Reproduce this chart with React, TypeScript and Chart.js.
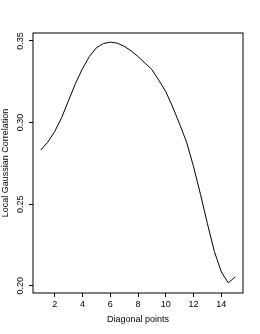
import React, { useEffect, useRef } from "react";
import { Chart, registerables } from "chart.js";

Chart.register(...registerables);

const diagonalPoints = [1, 1.5, 2, 2.5, 3, 3.5, 4, 4.5, 5, 5.5, 6, 6.5, 7, 7.5, 8, 8.5, 9, 9.5, 10, 10.5, 11, 11.5, 12, 12.5, 13, 13.5, 14, 14.5, 15];
const correlation = [0.2832, 0.2880, 0.2945, 0.3030, 0.3135, 0.3240, 0.3330, 0.3405, 0.3458, 0.3484, 0.3493, 0.3487, 0.3468, 0.3440, 0.3405, 0.3365, 0.3325, 0.3260, 0.3190, 0.3095, 0.2990, 0.2880, 0.2730, 0.2560, 0.2380, 0.2210, 0.2085, 0.2018, 0.2055];
const xTicks = [2, 4, 6, 8, 10, 12, 14];
const yTicks = [0.20, 0.25, 0.30, 0.35];
const xTitle = "Diagonal points";
const yTitle = "Local Gaussian Correlation";

const FONT = "'Liberation Sans', Arial, Helvetica, sans-serif";

const boxPlugin = {
  id: "rbox",
  afterDraw(chart: any) {
    const { ctx, chartArea } = chart;
    ctx.save();
    ctx.strokeStyle = "#000";
    ctx.lineWidth = 1;
    ctx.strokeRect(chartArea.left, chartArea.top, chartArea.right - chartArea.left, chartArea.bottom - chartArea.top);
    ctx.restore();
  },
};

export default function App() {
  const ref = useRef<HTMLCanvasElement | null>(null);
  useEffect(() => {
    if (!ref.current) return;
    const chart = new Chart(ref.current, {
      type: "line",
      data: {
        datasets: [
          {
            data: diagonalPoints.map((x, i) => ({ x, y: correlation[i] })),
            borderColor: "#000",
            borderWidth: 1,
            pointRadius: 0,
            tension: 0,
            fill: false,
          },
        ],
      },
      options: {
        responsive: false,
        animation: false,
        events: [],
        layout: { padding: { top: 33, right: 17, left: 0, bottom: 0 } },
        plugins: { legend: { display: false }, tooltip: { enabled: false } },
        scales: {
          x: {
            type: "linear",
            min: 0.44,
            max: 15.56,
            afterBuildTicks: (s: any) => {
              s.ticks = xTicks.map((v) => ({ value: v }));
            },
            afterFit: (s: any) => {
              s.height = 41;
            },
            grid: { display: true, drawOnChartArea: false, drawTicks: true, tickLength: 4, color: "#000" },
            border: { display: false },
            ticks: {
              autoSkip: false,
              maxRotation: 0,
              padding: 2.5,
              color: "#000",
              font: { family: FONT, size: 9 },
              callback: (v: any) => String(v),
            },
            title: {
              display: true,
              text: xTitle,
              color: "#000",
              font: { family: FONT, size: 9 },
              padding: { top: 0, bottom: 8.6 },
            },
          },
          y: {
            type: "linear",
            min: 0.1956,
            max: 0.3549,
            afterBuildTicks: (s: any) => {
              s.ticks = yTicks.map((v) => ({ value: v }));
            },
            afterFit: (s: any) => {
              s.width = 33;
            },
            grid: { display: true, drawOnChartArea: false, drawTicks: true, tickLength: 4, color: "#000" },
            border: { display: false },
            ticks: {
              autoSkip: false,
              minRotation: 90,
              maxRotation: 90,
              crossAlign: "center",
              padding: 0,
              color: "#000",
              font: { family: FONT, size: 9 },
              callback: (v: any) => Number(v).toFixed(2),
            },
            title: {
              display: true,
              text: yTitle,
              color: "#000",
              font: { family: FONT, size: 9 },
              padding: { top: 0.6, bottom: 0 },
            },
          },
        },
      },
      plugins: [boxPlugin],
    } as any);
    return () => chart.destroy();
  }, []);
  return (
    <canvas
      ref={ref}
      width={260}
      height={334}
      style={{ position: "absolute", left: 0, top: 0 }}
    />
  );
}
